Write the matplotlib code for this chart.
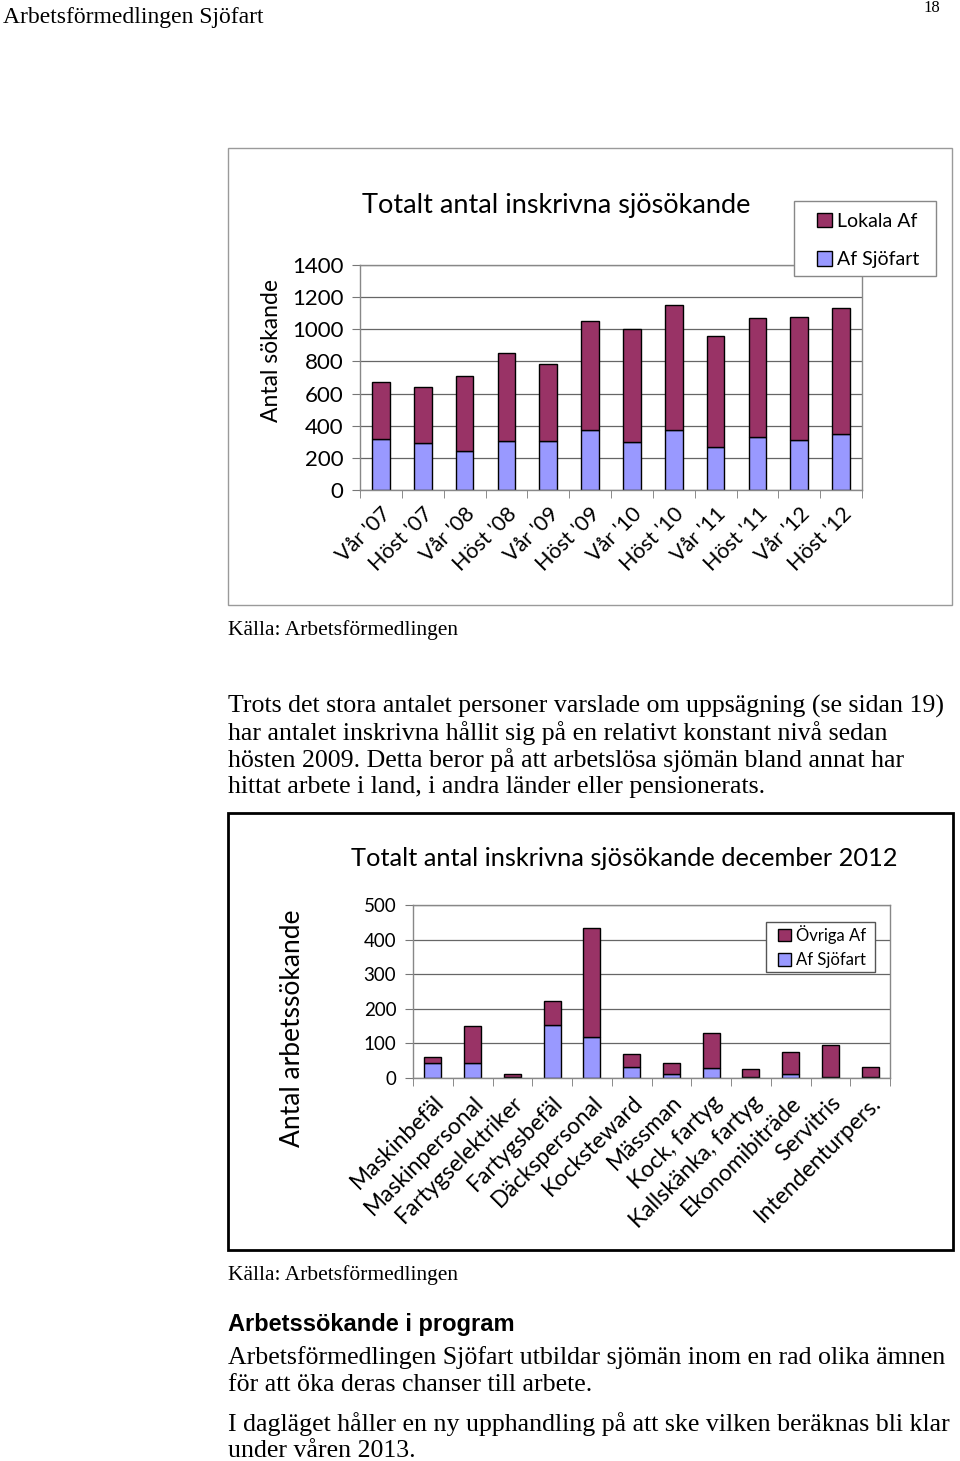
import matplotlib
matplotlib.use("Agg")
import matplotlib.pyplot as plt
from matplotlib.patches import Rectangle
import numpy as np

# data
perioder = ["Vår '07", "Höst '07", "Vår '08", "Höst '08", "Vår '09", "Höst '09",
            "Vår '10", "Höst '10", "Vår '11", "Höst '11", "Vår '12", "Höst '12"]
af_sjofart_1 = [320, 295, 242, 304, 304, 373, 298, 373, 269, 327, 310, 348]
lokala_af = [350, 345, 468, 546, 477, 677, 702, 775, 691, 742, 765, 783]

yrken = ["Maskinbefäl", "Maskinpersonal", "Fartygselektriker", "Fartygsbefäl",
         "Däckspersonal", "Kocksteward", "Mässman", "Kock, fartyg",
         "Kallskänka, fartyg", "Ekonomibiträde", "Servitris", "Intendenturpers."]
af_sjofart_2 = [42, 42, 3, 154, 119, 31, 11, 29, 2, 13, 4, 3]
ovriga_af = [18, 109, 10, 69, 315, 37, 31, 101, 23, 63, 91, 30]

MAROON = "#993366"
BLUE = "#9999FF"
CHART_FONT = "Lato"
PAGE_FONT = "Liberation Serif"
BODY_FS = 18.6

W, H = 960, 1461
fig = plt.figure(figsize=(W / 100, H / 100), dpi=100)


def rect(l, t, r, b):
    # pixel box -> figure fraction
    return [l / W, 1 - b / H, (r - l) / W, (b - t) / H]


def fx(px):
    return px / W


def fy(py):
    return 1 - py / H


def box(l, t, r, b, **kw):
    fig.patches.append(Rectangle((fx(l), fy(b)), (r - l) / W, (b - t) / H,
                                 transform=fig.transFigure, fill=False, **kw))


def bar_chart(ax, labels, blue, top, ymax, step, tick_fs, label_fs, width):
    x = np.arange(len(labels))
    b1 = ax.bar(x, blue, width=width, color=BLUE, edgecolor="black", linewidth=1)
    b2 = ax.bar(x, top, bottom=blue, width=width, color=MAROON, edgecolor="black", linewidth=1)
    ax.set_xlim(-0.5, len(labels) - 0.5)
    ax.set_ylim(0, ymax)
    ax.set_yticks(np.arange(0, ymax + 1, step))
    ax.set_yticklabels([str(v) for v in np.arange(0, ymax + 1, step)],
                       fontsize=tick_fs, family=CHART_FONT)
    ax.set_xticks(x)
    ax.set_xticklabels(labels, rotation=45, ha="right", rotation_mode="anchor",
                       fontsize=label_fs, family=CHART_FONT)
    ax.set_xticks(np.arange(-0.5, len(labels)), minor=True)
    ax.tick_params(axis="x", which="major", length=0, pad=10)
    ax.tick_params(axis="x", which="minor", length=6, color="#777777", direction="out")
    ax.tick_params(axis="y", length=6, color="#777777", pad=6)
    ax.yaxis.grid(True, color="#666666", linewidth=0.9)
    ax.set_axisbelow(True)
    for s in ax.spines.values():
        s.set_color("#888888")
        s.set_linewidth(1)
    return b1, b2


def legend(ax, handles, labels, frame, handle_x, top, size, spacing, edge):
    # frame drawn on its own so the padding can differ per side, like Excel
    l, t, r, b = frame
    ax.add_patch(Rectangle((fx(l), fy(b)), (r - l) / W, (b - t) / H,
                           transform=fig.transFigure, facecolor="white",
                           edgecolor=edge, linewidth=1, zorder=5, clip_on=False))
    lg = ax.legend(handles, labels, loc="upper left", bbox_to_anchor=(fx(handle_x), fy(top)),
                   bbox_transform=fig.transFigure, borderaxespad=0, borderpad=0,
                   prop={"family": CHART_FONT, "size": size}, frameon=False,
                   handlelength=0.75, handleheight=0.75, handletextpad=0.3,
                   labelspacing=spacing)
    lg.set_zorder(6)
    return lg


def lines(texts, y0, **kw):
    for i, line in enumerate(texts):
        fig.text(fx(228), fy(y0 + 27 * i), line, va="center", **kw)


# page header
fig.text(fx(3), fy(17), "Arbetsförmedlingen Sjöfart", family=PAGE_FONT, fontsize=17,
         va="center", ha="left")
fig.text(fx(940), fy(8), "18", family=PAGE_FONT, fontsize=12, va="center", ha="right")

# chart 1
box(228, 148, 952, 605, edgecolor="#9a9a9a", linewidth=1)
ax1 = fig.add_axes(rect(360, 265, 862, 490))
sj1, lok1 = bar_chart(ax1, perioder, af_sjofart_1, lokala_af, 1400, 200, 16, 15.5, 0.42)
fig.text(fx(271), fy(351), "Antal sökande", family=CHART_FONT, fontsize=16.5,
         rotation=90, ha="center", va="center")
fig.text(fx(556), fy(205), "Totalt antal inskrivna sjösökande", family=CHART_FONT,
         fontsize=19.5, ha="center", va="center")
legend(ax1, [lok1, sj1], ["Lokala Af", "Af Sjöfart"], (794, 201, 936, 276), 817, 213,
       14, 1.1, "#888888")
fig.text(fx(228), fy(630), "Källa: Arbetsförmedlingen", family=PAGE_FONT, fontsize=15.5,
         va="center")

# paragraph
lines(["Trots det stora antalet personer varslade om uppsägning (se sidan 19)",
       "har antalet inskrivna hållit sig på en relativt konstant nivå sedan",
       "hösten 2009. Detta beror på att arbetslösa sjömän bland annat har",
       "hittat arbete i land, i andra länder eller pensionerats."],
      706, family=PAGE_FONT, fontsize=BODY_FS)

# chart 2
box(228, 813, 953, 1250, edgecolor="black", linewidth=2)
ax2 = fig.add_axes(rect(413, 905, 890, 1078))
sj2, ovr2 = bar_chart(ax2, yrken, af_sjofart_2, ovriga_af, 500, 100, 13.5, 16.5, 0.43)
fig.text(fx(293), fy(1028), "Antal arbetssökande", family=CHART_FONT, fontsize=19,
         rotation=90, ha="center", va="center")
fig.text(fx(624), fy(858), "Totalt antal inskrivna sjösökande december 2012",
         family=CHART_FONT, fontsize=18.3, ha="center", va="center")
legend(ax2, [ovr2, sj2], ["Övriga Af", "Af Sjöfart"], (766, 922, 875, 972), 778, 925,
       12, 0.5, "#555555")
fig.text(fx(228), fy(1275), "Källa: Arbetsförmedlingen", family=PAGE_FONT, fontsize=15.5,
         va="center")

# section after chart 2
fig.text(fx(228), fy(1324), "Arbetssökande i program", family="Liberation Sans",
         fontsize=17, weight="bold", va="center")
lines(["Arbetsförmedlingen Sjöfart utbildar sjömän inom en rad olika ämnen",
       "för att öka deras chanser till arbete."],
      1358, family=PAGE_FONT, fontsize=BODY_FS)
lines(["I dagläget håller en ny upphandling på att ske vilken beräknas bli klar",
       "under våren 2013."],
      1424, family=PAGE_FONT, fontsize=BODY_FS)

fig.savefig("out.png", dpi=100)
